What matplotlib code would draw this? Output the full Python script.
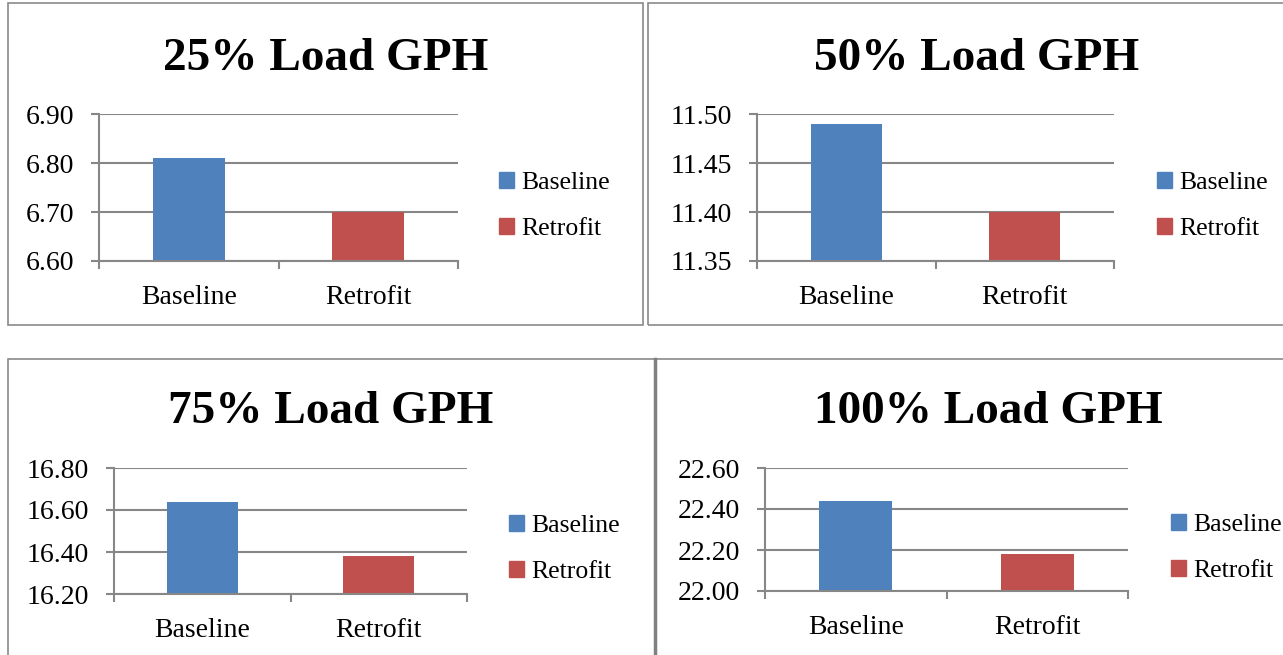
import matplotlib.pyplot as plt
from matplotlib.patches import Rectangle, Patch
from matplotlib.ticker import FormatStrFormatter

plt.rcParams['font.family'] = ['Liberation Serif', 'DejaVu Serif']

categories = ["Baseline", "Retrofit"]
titles = ["25% Load GPH", "50% Load GPH", "75% Load GPH", "100% Load GPH"]
load25 = [6.81, 6.70]
load50 = [11.49, 11.40]
load75 = [16.64, 16.38]
load100 = [22.44, 22.18]
yticks25 = [6.60, 6.70, 6.80, 6.90]
yticks50 = [11.35, 11.40, 11.45, 11.50]
yticks75 = [16.20, 16.40, 16.60, 16.80]
yticks100 = [22.00, 22.20, 22.40, 22.60]

colors = ["#4F81BD", "#C0504D"]
grid_c = "#878787"

W, H = 1283, 655
fig = plt.figure(figsize=(W / 100, H / 100), dpi=100)


def fx(x):
    return x / W


def fy(y):
    return 1 - y / H


# panel layouts in pixels: box, axes (l, r, t, b), title (x, baseline), legend (x, y)
panels = [
    dict(box=(8, 3, 643, 325), ax=(99, 458, 114, 261), title=(326, 70), leg=(499, 206)),
    dict(box=(648, 3, 1295, 325), ax=(757, 1114, 114, 261), title=(977, 70), leg=(1157, 206)),
    dict(box=(8, 359, 655, 670), ax=(114, 467, 468, 594), title=(331, 423), leg=(509, 549)),
    dict(box=(655, 359, 1295, 670), ax=(765, 1128, 468, 591), title=(988, 423), leg=(1171, 548)),
]
values = [load25, load50, load75, load100]
yticks = [yticks25, yticks50, yticks75, yticks100]

for i, p in enumerate(panels):
    x0, y0, x1, y1 = p['box']
    fig.add_artist(Rectangle((fx(x0), fy(y1)), fx(x1 - x0), (y1 - y0) / H,
                             transform=fig.transFigure, fill=False,
                             edgecolor="#8a8a8a", linewidth=1.2))
    if i == 3:
        fig.add_artist(plt.Line2D([fx(x0), fx(x0)], [fy(y1), fy(y0)],
                                  transform=fig.transFigure, color="#808080", linewidth=2.5))

    l, r, t, b = p['ax']
    ax = fig.add_axes([fx(l), fy(b), (r - l) / W, (b - t) / H])
    ax.bar([0, 1], values[i], width=0.4, color=colors, zorder=2)
    ax.set_xlim(-0.5, 1.5)
    ax.set_ylim(yticks[i][0], yticks[i][-1])
    ax.set_yticks(yticks[i])
    ax.yaxis.set_major_formatter(FormatStrFormatter('%.2f'))
    ax.grid(axis='y', color=grid_c, linewidth=1.5, zorder=0)
    ax.set_axisbelow(True)
    ax.set_xticks([0, 1])
    ax.set_xticklabels(categories)
    ax.set_xticks([-0.5, 0.5, 1.5], minor=True)
    ax.tick_params(axis='x', which='major', length=0, pad=17, labelsize=20)
    ax.tick_params(axis='x', which='minor', length=6, width=1.5, color=grid_c, direction='out')
    ax.tick_params(axis='y', length=6, width=1.5, color=grid_c, pad=12, labelsize=20)
    for s in ['top', 'right']:
        ax.spines[s].set_visible(False)
    for s in ['left', 'bottom']:
        ax.spines[s].set_color(grid_c)
        ax.spines[s].set_linewidth(1.5)

    tx, ty = p['title']
    fig.text(fx(tx), fy(ty), titles[i], ha='center', va='baseline',
             fontsize=34, fontweight='bold')

    lx, ly = p['leg']
    handles = [Patch(color=c) for c in colors]
    ax.legend(handles, categories, loc='center left', bbox_to_anchor=(fx(lx), fy(ly)),
              bbox_transform=fig.transFigure, frameon=False, fontsize=18.5,
              handlelength=0.58, handleheight=0.58, handletextpad=0.3,
              labelspacing=0.9, borderpad=0, borderaxespad=0)

fig.savefig("out.png", dpi=100)
